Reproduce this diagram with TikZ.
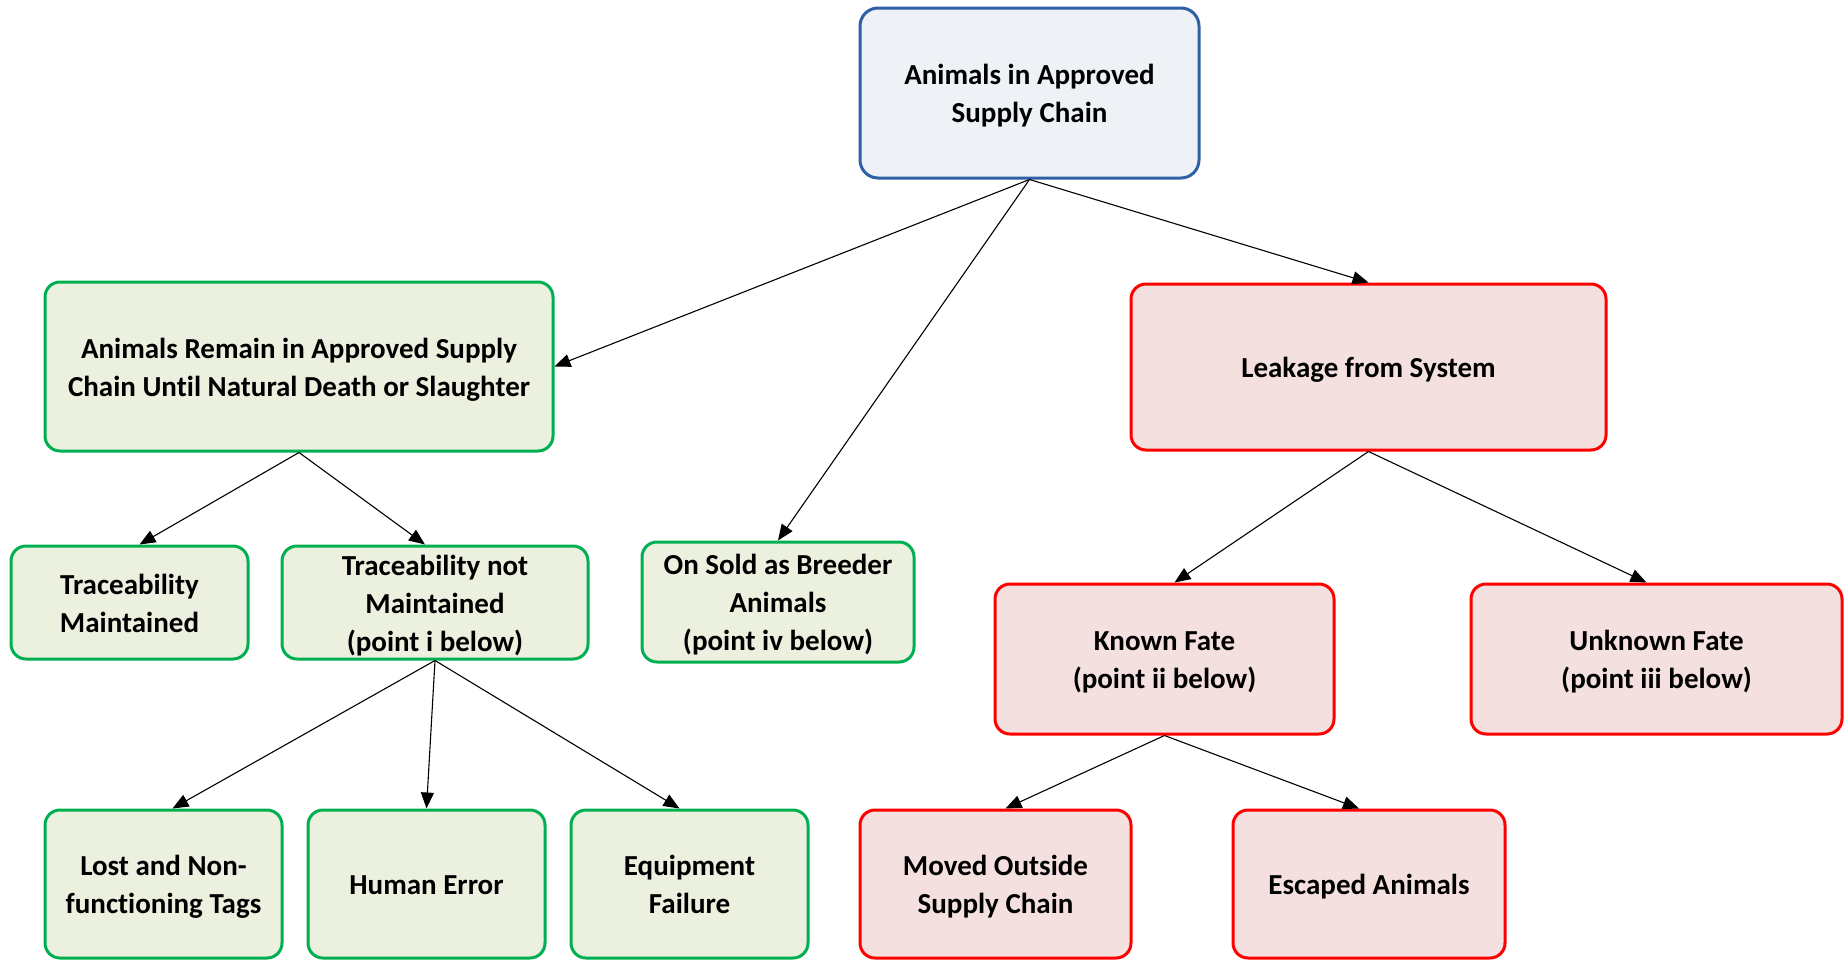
\documentclass[tikz,border=0pt]{standalone}
\usepackage{fontspec}
\setmainfont{Carlito}[Ligatures=NoCommon]
\usetikzlibrary{arrows.meta}
\definecolor{gborder}{HTML}{00B050}
\definecolor{gfill}{HTML}{EBF0DF}
\definecolor{rborder}{HTML}{FF0000}
\definecolor{rfill}{HTML}{F3E0DF}
\definecolor{bborder}{HTML}{2F5FA7}
\definecolor{bfill}{HTML}{EEF1F6}
\newcommand\bt[1]{\raisebox{-9.25pt}[0pt][0pt]{\begin{tabular}{@{}c@{}}#1\end{tabular}}}
\tikzset{
  box/.style={rectangle, rounded corners=15pt, line width=3pt, inner sep=0pt,
    font=\fontsize{29}{38}\selectfont\bfseries},
  gbox/.style={box, draw=gborder, fill=gfill},
  rbox/.style={box, draw=rborder, fill=rfill},
  bbox/.style={box, draw=bborder, fill=bfill, rounded corners=18pt},
  conn/.style={line width=1.1pt, -{Triangle[length=16pt,width=13pt]}}
}
\begin{document}
\begin{tikzpicture}[x=1pt,y=-1pt]
\useasboundingbox (0,0) rectangle (1845,961);
\node[bbox, minimum width=339pt, minimum height=170pt] (top) at (1029.5,93) {\bt{Animals in Approved\\Supply Chain}};
\node[gbox, minimum width=508pt, minimum height=169pt] (bg) at (299,366.5) {\bt{Animals Remain in Approved Supply\\Chain Until Natural Death or Slaughter}};
\node[gbox, minimum width=237pt, minimum height=113pt] (tm) at (129.5,602.5) {\bt{Traceability\\Maintained}};
\node[gbox, minimum width=306pt, minimum height=113pt] (tnm) at (435,602.5) {\bt{Traceability not\\Maintained\\(point i below)}};
\node[gbox, minimum width=272pt, minimum height=120pt] (os) at (778,602) {\bt{On Sold as Breeder\\Animals\\(point iv below)}};
\node[rbox, minimum width=475pt, minimum height=166pt] (leak) at (1368.5,367) {\bt{Leakage from System}};
\node[rbox, minimum width=339pt, minimum height=150pt] (kf) at (1164.5,659) {\bt{Known Fate\\(point ii below)}};
\node[rbox, minimum width=371pt, minimum height=150pt] (uf) at (1656.5,659) {\bt{Unknown Fate\\(point iii below)}};
\node[gbox, minimum width=237pt, minimum height=148pt] (lost) at (163.5,884) {\bt{Lost and Non-\\functioning Tags}};
\node[gbox, minimum width=237pt, minimum height=148pt] (he) at (426.5,884) {\bt{Human Error}};
\node[gbox, minimum width=237pt, minimum height=148pt] (ef) at (689.5,884) {\bt{Equipment\\Failure}};
\node[rbox, minimum width=271pt, minimum height=148pt] (mo) at (995.5,884) {\bt{Moved Outside\\Supply Chain}};
\node[rbox, minimum width=272pt, minimum height=148pt] (esc) at (1369,884) {\bt{Escaped Animals}};

\draw[conn] (top.south) -- (bg.east);
\draw[conn] (top.south) -- (os.north);
\draw[conn] (top.south) -- (leak.north);
\draw[conn] (bg.south) -- ([xshift=10pt]tm.north);
\draw[conn] (bg.south) -- ([xshift=-10pt]tnm.north);
\draw[conn] (tnm.south) -- ([xshift=9pt]lost.north);
\draw[conn] (tnm.south) -- (he.north);
\draw[conn] (tnm.south) -- ([xshift=-10pt]ef.north);
\draw[conn] (leak.south) -- ([xshift=10pt]kf.north);
\draw[conn] (leak.south) -- ([xshift=-10pt]uf.north);
\draw[conn] (kf.south) -- ([xshift=10pt]mo.north);
\draw[conn] (kf.south) -- ([xshift=-10pt]esc.north);
\end{tikzpicture}
\end{document}
